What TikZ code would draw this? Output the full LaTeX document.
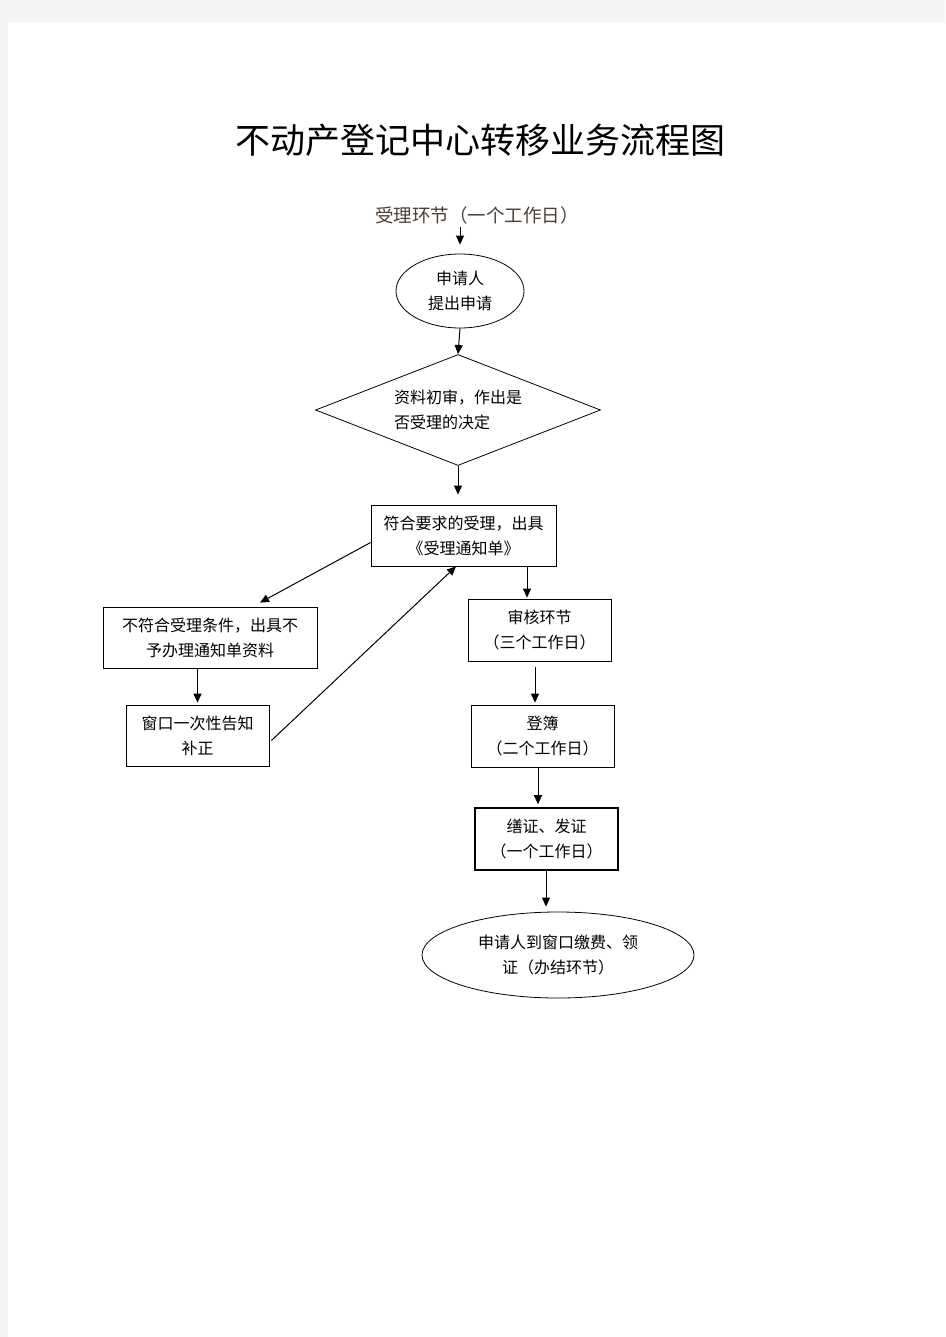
\documentclass[tikz,border=0pt]{standalone}
\usepackage{fontspec}
\setmainfont{Noto Sans CJK SC}
\newfontfamily\cjk{Noto Sans CJK SC}
\usepackage{tikz}
\usetikzlibrary{shapes.geometric,arrows.meta,positioning}

\definecolor{pagegray}{HTML}{F4F4F4}
\definecolor{labelbrown}{HTML}{4A4035}

\tikzset{
  stepbox/.style={draw, line width=0.8pt, rectangle, inner sep=0pt, align=center, font=\cjk\fontsize{16}{25}\selectfont},
  roundbox/.style={draw, line width=0.8pt, ellipse, inner sep=0pt, align=center, font=\cjk\fontsize{16}{25}\selectfont},
  arr/.style={-{Triangle[length=9pt,width=8pt]}, line width=1pt}
}

\begin{document}
\begin{tikzpicture}[x=1pt,y=-1pt]
  % Page
  \fill[pagegray] (0,0) rectangle (945,1337);
  \fill[white] (8,22) rectangle (945,1337);
  \useasboundingbox (0,0) rectangle (945,1337);

  % Title
  \node (title) at (480,140) {\cjk\fontsize{35}{40}\selectfont 不动产登记中心转移业务流程图};
  \node[text=labelbrown] (stage) at (477,215) {\cjk\fontsize{18.5}{20}\selectfont 受理环节（一个工作日）};

  % Intake
  \node[roundbox, minimum width=128pt, minimum height=74pt] (apply) at (460,291) {申请人\\提出申请};
  \node[draw, line width=0.8pt, diamond, aspect=2.57, inner sep=0pt, minimum width=285pt, minimum height=111pt,
        align=left, font=\cjk\fontsize{16}{25}\selectfont] (check) at (458,410) {资料初审，作出是\\否受理的决定};
  \node[stepbox, minimum width=185pt, minimum height=61pt] (accept) at (463.5,535.5) {符合要求的受理，出具\\《受理通知单》};

  % Rejected branch
  \node[stepbox, minimum width=214pt, minimum height=61pt] (reject) at (210,637.5) {不符合受理条件，出具不\\予办理通知单资料};
  \node[stepbox, minimum width=143pt, minimum height=61pt] (notify) at (197.5,735.5) {窗口一次性告知\\补正};

  % Main line
  \node[stepbox, minimum width=143pt, minimum height=62pt] (review) at (539.5,630) {审核环节\\（三个工作日）};
  \node[stepbox, minimum width=143pt, minimum height=62pt] (record) at (542.5,736) {登簿\\（二个工作日）};
  \node[stepbox, line width=1.6pt, minimum width=143pt, minimum height=62pt] (issue) at (546.5,839) {缮证、发证\\（一个工作日）};
  \node[roundbox, minimum width=272pt, minimum height=86pt] (finish) at (558,955) {申请人到窗口缴费、领\\证（办结环节）};

  % Arrows
  \draw[arr, shorten >=9pt] (apply.north |- stage.south) -- (apply.north);
  \draw[arr] (apply.south) -- (check.north);
  \draw[arr, shorten >=10pt] (check.south) -- (check.south |- accept.north);
  \draw[arr] ([yshift=-7pt]accept.west) -- ([xshift=50pt,yshift=4pt]reject.north);
  \draw[arr, shorten >=2pt] (notify.north |- reject.south) -- (notify.north);
  \draw[arr] ([xshift=2pt,yshift=-5pt]notify.east) -- ([xshift=-7.5pt]accept.south);
  \draw[arr, shorten >=1pt] ([xshift=-12.5pt]review.north |- accept.south) -- ([xshift=-12.5pt]review.north);
  \draw[arr, shorten <=6pt, shorten >=2pt] ([xshift=-7.5pt]record.north |- review.south) -- ([xshift=-7.5pt]record.north);
  \draw[arr, shorten >=3pt] ([xshift=-8.5pt]issue.north |- record.south) -- ([xshift=-8.5pt]issue.north);
  \draw[arr, shorten >=5pt] ([xshift=-12pt]finish.north |- issue.south) -- ([xshift=-12pt]finish.north);
\end{tikzpicture}
\end{document}
